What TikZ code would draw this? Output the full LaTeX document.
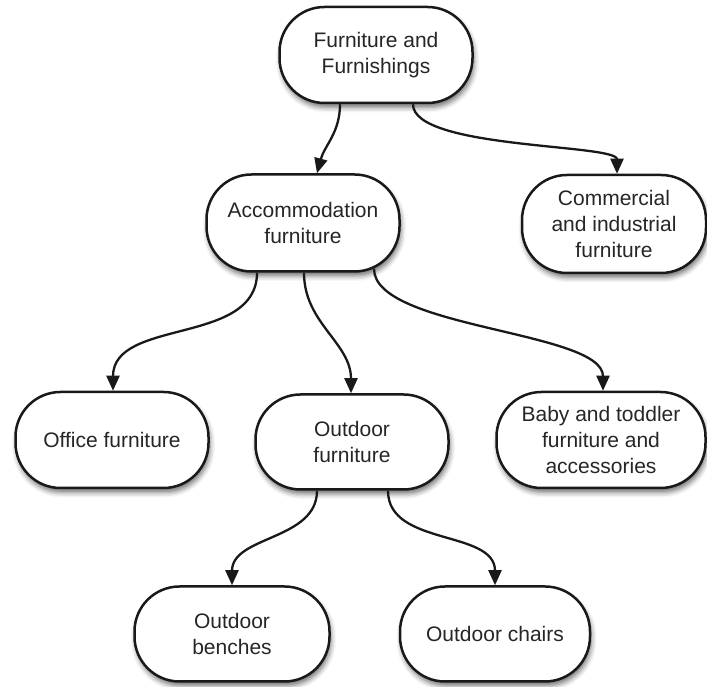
\documentclass[tikz,border=0pt]{standalone}
\usepackage{fontspec}
\setmainfont{Liberation Sans}
\usetikzlibrary{arrows.meta,shadows.blur}
\begin{document}
\begin{tikzpicture}[x=1pt,y=1pt,
  box/.style={draw=black!90, line width=2.5pt, fill=white, rounded corners=45pt,
    align=center, inner sep=0pt, minimum width=193pt, minimum height=96pt,
    font=\fontsize{21}{26}\selectfont, text=black!85,
    blur shadow={shadow xshift=1.5pt, shadow yshift=-4.5pt, shadow blur radius=5pt, shadow opacity=55}},
  link/.style={line width=2.3pt, draw=black!90, -{Triangle[length=15pt,width=13pt]}}]
  \useasboundingbox (0,0) rectangle (707,687);

  % category boxes
  \node[box] (root) at (376,632) {Furniture and\\Furnishings};
  \node[box, minimum height=97pt] (accom) at (303,464) {Accommodation\\furniture};
  \node[box, minimum width=184pt, minimum height=98pt] (comm) at (614,463) {Commercial\\and industrial\\furniture};
  \node[box] (office) at (112,247) {Office furniture};
  \node[box, minimum height=95pt] (outdoor) at (352,245) {Outdoor\\furniture};
  \node[box, minimum width=209pt] (baby) at (601,247) {Baby and toddler\\furniture and\\accessories};
  \node[box, minimum width=195pt, minimum height=95pt] (benches) at (232,53) {Outdoor\\benches};
  \node[box, minimum width=190pt, minimum height=95pt] (chairs) at (495,53) {Outdoor chairs};

  % hierarchy links
  \draw[link] ([xshift=-36pt]root.south) to[out=-90,in=75] ([xshift=14pt]accom.north);
  \draw[link] ([xshift=37pt]root.south) to[out=-90,in=90,out distance=45pt,in distance=30pt] ([xshift=3pt]comm.north);
  \draw[link] ([xshift=-46pt]accom.south) to[out=-90,in=90] ([xshift=1pt]office.north);
  \draw[link] ([xshift=1pt]accom.south) to[out=-90,in=90] ([xshift=-1pt]outdoor.north);
  \draw[link] ([xshift=71pt,yshift=4pt]accom.south) to[out=-90,in=90,out distance=60pt,in distance=60pt] ([xshift=2pt]baby.north);
  \draw[link] ([xshift=-35pt]outdoor.south) to[out=-90,in=90] (benches.north);
  \draw[link] ([xshift=36pt]outdoor.south) to[out=-90,in=90] (chairs.north);
\end{tikzpicture}
\end{document}
